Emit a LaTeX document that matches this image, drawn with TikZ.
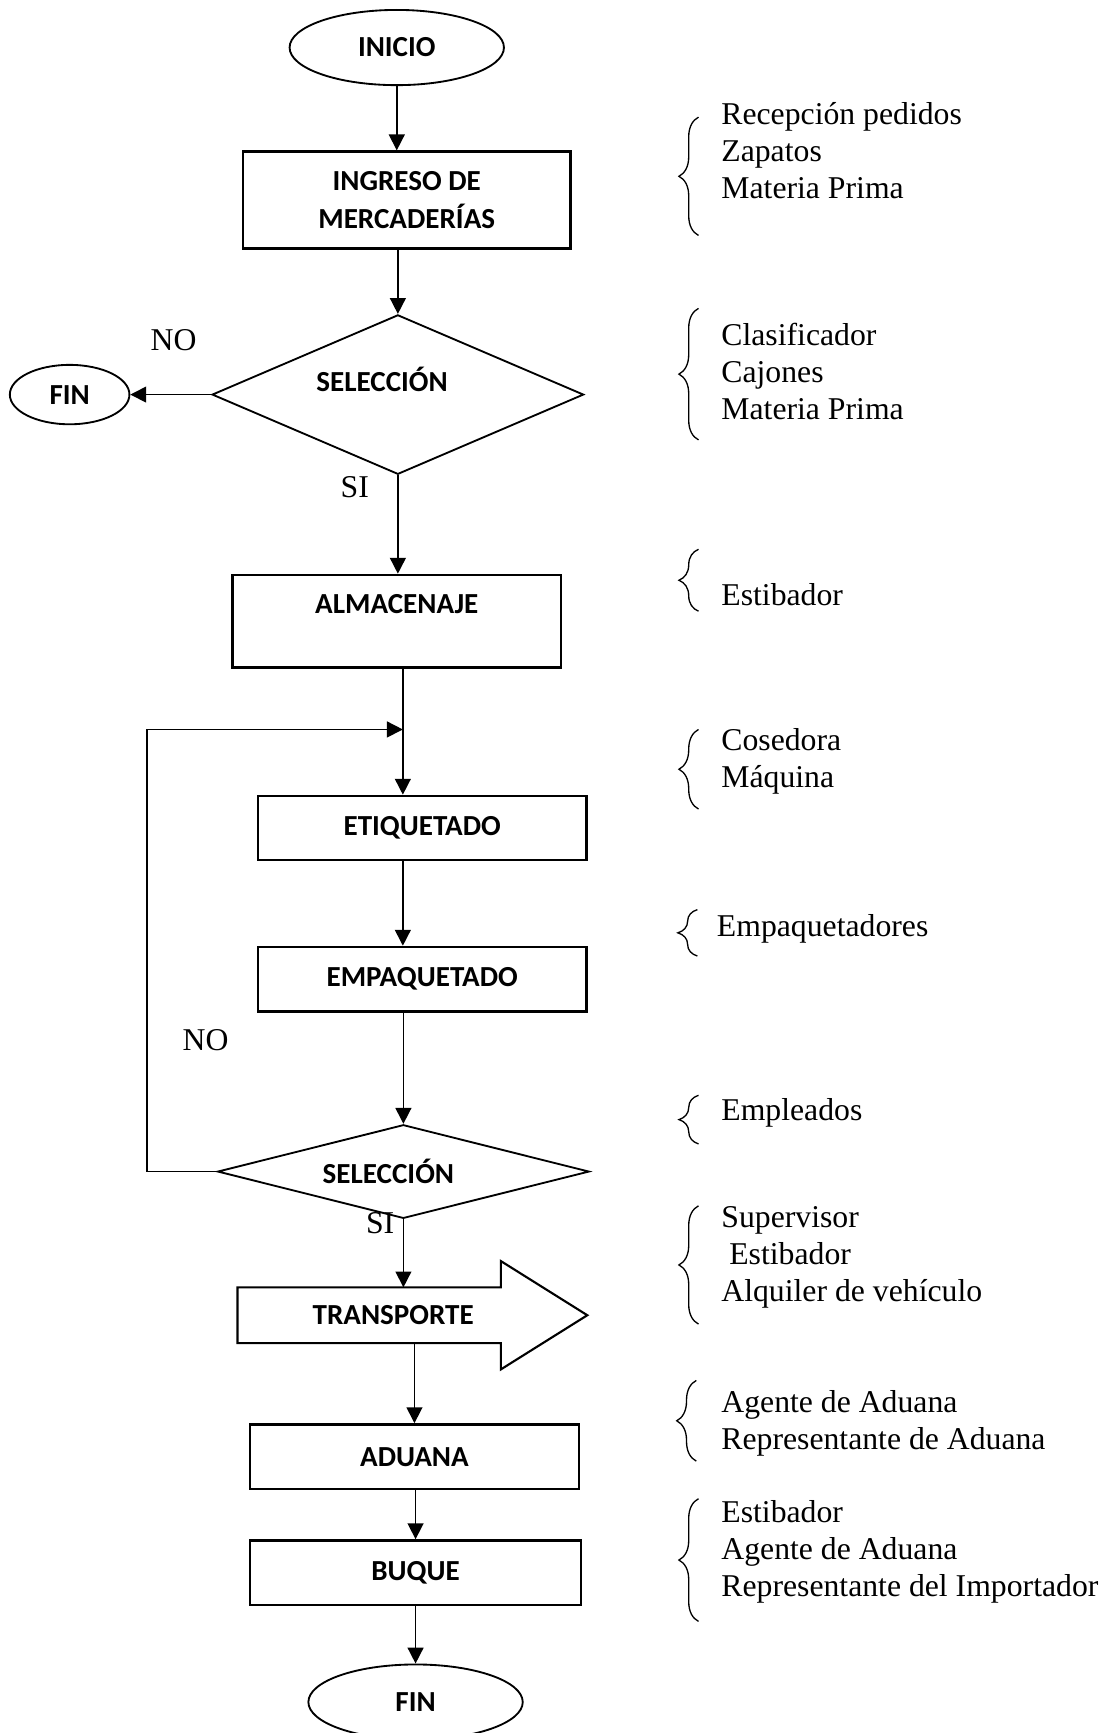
\documentclass[tikz,border=0pt]{standalone}
\usepackage{fontspec}
\setmainfont{Liberation Serif}
\newfontfamily\boxfont{Carlito}
\usetikzlibrary{shapes.geometric,arrows.meta,decorations.pathreplacing}

\begin{document}
\begin{tikzpicture}[x=0.0147cm, y=-0.0147cm,
    >={Triangle[length=6pt,width=6pt]},
    every path/.style={line width=0.6pt},
    bold/.style={font=\boxfont\bfseries\fontsize{11}{13}\selectfont},
    proc/.style={bold, draw, line width=0.9pt, inner sep=0pt, align=center,
                 minimum width=4.37cm, minimum height=0.86cm},
    term/.style={bold, draw, ellipse, line width=0.7pt, inner sep=0pt,
                 minimum width=2.85cm, minimum height=1cm},
    decision/.style={draw, diamond, line width=0.7pt, inner sep=0pt,
                 minimum width=4.94cm},
    txt/.style={bold, inner sep=0pt},
    note/.style={anchor=west, align=left, inner sep=0pt,
                 font=\fontsize{12}{14}\selectfont,
                 execute at begin node=\strut, execute at end node=\strut},
    answer/.style={inner sep=0pt, font=\fontsize{12}{14}\selectfont},
    resource/.style={decorate, decoration={brace, amplitude=0.26cm}, line width=0.5pt}]
	\useasboundingbox (0,0) rectangle (1003,1568);

	% main column
	\node [term] (ini) at (359, 43) {INICIO};
	\node [proc, minimum width=4.35cm, minimum height=1.29cm] (ing) at (368, 181) {INGRESO DE\\[1.6pt] MERCADERÍAS};
	\node [decision, minimum height=2.12cm, label={[txt, xshift=-0.21cm, yshift=0.2cm]center:SELECCIÓN}] (sel1) at (360, 357) {};
	\node [term, minimum width=1.59cm, minimum height=0.79cm] (fin1) at (63, 357) {FIN};
	\node [proc, minimum height=1.23cm, label={[txt, yshift=0.23cm]center:ALMACENAJE}] (alm) at (359, 562) {};
	\node [proc, minimum height=0.85cm] (etq) at (382, 749) {ETIQUETADO};
	\node [proc] (emp) at (382, 886) {EMPAQUETADO};
	\node [decision, minimum height=1.245cm, label={[txt, xshift=-0.2cm]center:SELECCIÓN}] (sel2) at (365, 1060) {};
	\node [inner sep=0pt, minimum width=3.48cm, minimum height=0.72cm, label={[txt, xshift=0.32cm]center:TRANSPORTE}] (tra) at (334, 1190) {};
	\node [proc] (adu) at (375, 1318) {ADUANA};
	\node [proc, minimum width=4.4cm] (buq) at (376, 1423) {BUQUE};
	\node [term] (fin2) at (376, 1540) {FIN};

	% transport arrow shape
	\draw [line width=0.8pt] (tra.north west) -- (tra.north east) -- ([yshift=0.35cm]tra.north east)
	      -- ([xshift=1.15cm]tra.east) -- ([yshift=-0.35cm]tra.south east)
	      -- (tra.south east) -- (tra.south west) -- cycle;

	% yes / no
	\node [answer] (no1) at (157, 308) {NO};
	\node [answer] (si1) at (321, 441) {SI};
	\node [answer] (no2) at (186, 941) {NO};
	\node [answer] (si2) at (344, 1107) {SI};

	% connectors
	\coordinate (join) at (364.5, 660);
	\coordinate (back) at (133, 660);
	\draw [->] (ini.south) -- (ini.south |- ing.north);
	\draw [->] (sel1.north |- ing.south) -- (sel1.north);
	\draw [->] (sel1.west) -- (fin1.east);
	\draw [->] (sel1.south) -- (sel1.south |- alm.north);
	\draw [->] (alm.south -| join) -- (join |- etq.north);
	\draw [->] (join |- etq.south) -- (join |- emp.north);
	\draw [->] (sel2.north |- emp.south) -- (sel2.north);
	\draw [->] (sel2.west) -| (back) -- (join);
	\draw [->] (sel2.south) -- (sel2.south |- tra.north);
	\draw [->] (adu.north |- tra.south) -- (adu.north);
	\draw [->] (buq.north |- adu.south) -- (buq.north);
	\draw [->] (fin2.north |- buq.south) -- (fin2.north);

	% resources
	\node [note] (r1) at (652, 141) {Recepción pedidos\\Zapatos\\Materia Prima};
	\node [note] (r2) at (652, 341) {Clasificador\\Cajones\\Materia Prima};
	\node [note] (r3) at (652, 541) {Estibador};
	\node [note] (r4) at (652, 691) {Cosedora\\Máquina};
	\node [note] (r5) at (648, 841) {Empaquetadores};
	\node [note] (r6) at (652, 1007) {Empleados};
	\node [note] (r7) at (652, 1140) {Supervisor\\\ Estibador\\Alquiler de vehículo};
	\node [note] (r8) at (652, 1290) {Agente de Aduana\\Representante de Aduana};
	\node [note] (r9) at (652, 1406) {Estibador\\Agente de Aduana\\Representante del Importador};
	\draw [resource] (632, 213) -- (632, 106);
	\draw [resource] (632, 398) -- (632, 279);
	\draw [resource] (632, 553) -- (632, 497);
	\draw [resource] (632, 732) -- (632, 660);
	\draw [resource] (631, 865) -- (631, 823);
	\draw [resource] (632, 1035) -- (632, 991);
	\draw [resource] (632, 1198) -- (632, 1091);
	\draw [resource] (630, 1322) -- (630, 1249);
	\draw [resource] (632, 1467) -- (632, 1356);
\end{tikzpicture}
\end{document}
